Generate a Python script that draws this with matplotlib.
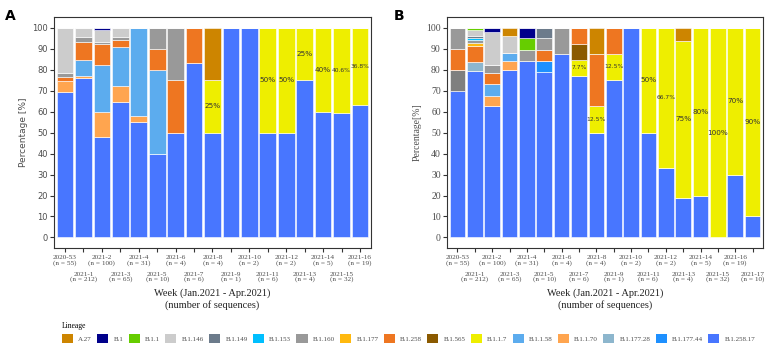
import matplotlib
matplotlib.use("Agg")
import matplotlib.pyplot as plt
from matplotlib.patches import Patch

# legend order; bars stack in the reverse order
LINEAGES = ['A.27', 'B.1', 'B.1.1', 'B.1.146', 'B.1.149', 'B.1.153', 'B.1.160', 'B.1.177',
            'B.1.258', 'B.1.565', 'B.1.1.7', 'B.1.1.58', 'B.1.1.70', 'B.1.177.28', 'B.1.177.44',
            'B.1.258.17']
COLORS = ['#CD8500', '#00008B', '#66CD00', '#CCCCCC', '#6C7B8B', '#00BFFF', '#999999', '#FFB90F',
          '#EE7621', '#8B5A00', '#EEEE00', '#5CACEE', '#FFA54F', '#8DB6CD', '#1E90FF',
          '#4876FF']
OTHER_COLOR = '#7F7F7F'

weeks_a = ['2020-53', '2021-1', '2021-2', '2021-3', '2021-4', '2021-5', '2021-6', '2021-7', '2021-8',
           '2021-9', '2021-10', '2021-11', '2021-12', '2021-13', '2021-14', '2021-15', '2021-16']
n_a = [55, 212, 100, 65, 31, 10, 4, 6, 4, 1, 2, 6, 2, 4, 5, 32, 19]
weeks_b = weeks_a + ['2021-17']
n_b = n_a + [10]

# panel A, percentage per week
a_b1258_17 = [69.1, 75.9, 48, 64.6, 54.8, 40, 50, 83.3, 50, 100, 100, 50, 50, 75, 60, 59.4, 63.2]
a_b117 = [0, 0, 0, 0, 0, 0, 0, 0, 25, 0, 0, 50, 50, 25, 40, 40.6, 36.8]
a_b1170 = [5.4, 0.9, 12, 7.7, 3.2, 0, 0, 0, 0, 0, 0, 0, 0, 0, 0, 0, 0]
a_b1158 = [0, 7.6, 22, 18.5, 42, 40, 0, 0, 0, 0, 0, 0, 0, 0, 0, 0, 0]
a_b1258 = [1.8, 8.5, 10, 3.1, 0, 10, 25, 16.7, 0, 0, 0, 0, 0, 0, 0, 0, 0]
a_b1160 = [1.9, 2.8, 1, 1.5, 0, 10, 25, 0, 0, 0, 0, 0, 0, 0, 0, 0, 0]
a_b1146 = [21.8, 4.3, 6, 4.6, 0, 0, 0, 0, 0, 0, 0, 0, 0, 0, 0, 0, 0]
a_b1 = [0, 0, 1, 0, 0, 0, 0, 0, 0, 0, 0, 0, 0, 0, 0, 0, 0]
a_a27 = [0, 0, 0, 0, 0, 0, 0, 0, 25, 0, 0, 0, 0, 0, 0, 0, 0]

# panel B, percentage per week
b_b1258_17 = [70, 79.2, 62.5, 80, 84, 79, 87.5, 76.9, 50, 75, 100, 50, 33.3, 18.75, 20, 0, 30, 10]
b_other = [10, 0, 0, 0, 0, 0, 0, 0, 0, 0, 0, 0, 0, 0, 0, 0, 0, 0]
b_b1177_44 = [0, 0, 0, 0, 0, 5, 0, 0, 0, 0, 0, 0, 0, 0, 0, 0, 0, 0]
b_b1177_28 = [0, 4.3, 0, 0, 0, 0, 0, 0, 0, 0, 0, 0, 0, 0, 0, 0, 0, 0]
b_b1170 = [0, 0, 5, 4, 0, 0, 0, 0, 0, 0, 0, 0, 0, 0, 0, 0, 0, 0]
b_b1158 = [0, 0, 5.5, 4, 0, 0, 0, 0, 0, 0, 0, 0, 0, 0, 0, 0, 0, 0]
b_b117 = [0, 0, 0, 0, 0, 0, 0, 7.7, 12.5, 12.5, 0, 50, 66.7, 75, 80, 100, 70, 90]
b_b1565 = [0, 0, 0, 0, 0, 0, 0, 7.7, 0, 0, 0, 0, 0, 0, 0, 0, 0, 0]
b_b1258 = [10, 7.6, 5.5, 0, 0, 5.5, 0, 7.7, 25, 12.5, 0, 0, 0, 0, 0, 0, 0, 0]
b_b1177 = [0, 1.6, 0, 0, 0, 0, 0, 0, 0, 0, 0, 0, 0, 0, 0, 0, 0, 0]
b_b1160 = [10, 1.2, 3.5, 0, 5.5, 5.5, 12.5, 0, 0, 0, 0, 0, 0, 0, 0, 0, 0, 0]
b_b1153 = [0, 1.2, 0, 0, 0, 0, 0, 0, 0, 0, 0, 0, 0, 0, 0, 0, 0, 0]
b_b1149 = [0, 1.1, 0, 0, 0, 5, 0, 0, 0, 0, 0, 0, 0, 0, 0, 0, 0, 0]
b_b1146 = [0, 2.5, 16, 8, 0, 0, 0, 0, 0, 0, 0, 0, 0, 0, 0, 0, 0, 0]
b_b11 = [0, 1.3, 0, 0, 5.5, 0, 0, 0, 0, 0, 0, 0, 0, 0, 0, 0, 0, 0]
b_b1 = [0, 0, 2, 0, 5, 0, 0, 0, 0, 0, 0, 0, 0, 0, 0, 0, 0, 0]
b_a27 = [0, 0, 0, 4, 0, 0, 0, 0, 12.5, 0, 0, 0, 0, 6.25, 0, 0, 0, 0]

# stacks, bottom -> top
stack_a = [('B.1.258.17', a_b1258_17), ('B.1.1.7', a_b117), ('B.1.1.70', a_b1170),
           ('B.1.1.58', a_b1158), ('B.1.258', a_b1258), ('B.1.160', a_b1160),
           ('B.1.146', a_b1146), ('B.1', a_b1), ('A.27', a_a27)]
stack_b = [('B.1.258.17', b_b1258_17), ('other', b_other), ('B.1.177.44', b_b1177_44),
           ('B.1.177.28', b_b1177_28), ('B.1.1.70', b_b1170), ('B.1.1.58', b_b1158),
           ('B.1.1.7', b_b117), ('B.1.565', b_b1565), ('B.1.258', b_b1258), ('B.1.177', b_b1177),
           ('B.1.160', b_b1160), ('B.1.153', b_b1153), ('B.1.149', b_b1149),
           ('B.1.146', b_b1146), ('B.1.1', b_b11), ('B.1', b_b1), ('A.27', b_a27)]

color_of = dict(zip(LINEAGES, COLORS))
color_of['other'] = OTHER_COLOR
SERIF = 'Liberation Serif'
TXT = '#4D4D4D'


def draw(ax, weeks, ns, stack, serif_y, ylab):
    x = list(range(len(weeks)))
    bottom = [0.0] * len(weeks)
    for name, vals in stack:
        ax.bar(x, vals, bottom=bottom, width=0.9, color=color_of[name],
               edgecolor='white', linewidth=0.4)
        if name == 'B.1.1.7':
            for i, v in enumerate(vals):
                if v > 0:
                    fs = 4.3 if v != int(v) else 5.2
                    ax.text(i, bottom[i] + v / 2, f'{v:g}%', ha='center', va='center',
                            fontsize=fs, color='#333333')
        bottom = [b + v for b, v in zip(bottom, vals)]
    ax.set_xlim(-0.6, len(weeks) - 0.4)
    ax.set_ylim(-5, 105)
    ax.set_yticks(range(0, 101, 10))
    labels = [f'{w}\n(n = {n})' for w, n in zip(weeks, ns)]
    # staggered two-row tick labels: even weeks on the major ticks, odd weeks on the minor ones
    ax.set_xticks(x[0::2])
    ax.set_xticklabels(labels[0::2], fontsize=5.2, family=SERIF, color=TXT, linespacing=1.0)
    ax.set_xticks(x[1::2], minor=True)
    ax.set_xticklabels(labels[1::2], minor=True, fontsize=5.2, family=SERIF, color=TXT,
                       linespacing=1.0)
    ax.tick_params(axis='x', which='both', length=3, width=0.8, color='#333333')
    ax.tick_params(axis='x', which='major', pad=2)
    ax.tick_params(axis='x', which='minor', pad=14)
    ax.tick_params(axis='y', length=3, width=0.8, color='#333333', pad=1.5)
    if serif_y:
        for lbl in ax.get_yticklabels():
            lbl.set_family(SERIF); lbl.set_fontsize(7); lbl.set_color(TXT)
        ax.set_ylabel(ylab, family=SERIF, fontsize=7, color=TXT, labelpad=3)
    else:
        for lbl in ax.get_yticklabels():
            lbl.set_fontsize(6); lbl.set_color(TXT)
        ax.set_ylabel(ylab, fontsize=6.5, color=TXT, labelpad=3)
    ax.set_xlabel('Week (Jan.2021 - Apr.2021)\n(number of sequences)', family=SERIF,
                  fontsize=7.5, color='#222222', labelpad=4, linespacing=1.35)
    for s in ax.spines.values():
        s.set_color('#333333'); s.set_linewidth(0.8)


fig = plt.figure(figsize=(7.67, 3.48), dpi=100)
ax_a = fig.add_axes([0.0704, 0.2874, 0.4133, 0.6636])
ax_b = fig.add_axes([0.5828, 0.2874, 0.4120, 0.6636])
draw(ax_a, weeks_a, n_a, stack_a, False, 'Percentage [%]')
draw(ax_b, weeks_b, n_b, stack_b, True, 'Percentage[%]')

fig.text(0.007, 0.975, 'A', fontsize=10, fontweight='bold', va='top')
fig.text(0.513, 0.975, 'B', fontsize=10, fontweight='bold', va='top')

handles = [Patch(facecolor=c, edgecolor='none', label=l) for l, c in zip(LINEAGES, COLORS)]
leg = fig.legend(handles=handles, loc='lower left', bbox_to_anchor=(62 / 767, 0.015),
                 ncol=len(LINEAGES), frameon=False, handlelength=1.6,
                 handleheight=1.6, handletextpad=0.75, columnspacing=0.75, borderpad=0,
                 borderaxespad=0, title='Lineage', title_fontsize=5.5, alignment='left',
                 prop={'family': SERIF, 'size': 5})
leg.get_title().set_family(SERIF)
for t in leg.get_texts():
    t.set_color(TXT)

fig.savefig('out.png', dpi=100)
